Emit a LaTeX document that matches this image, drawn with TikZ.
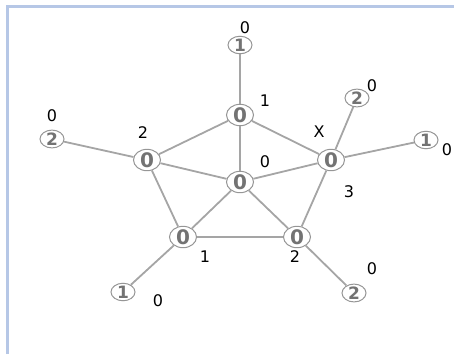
\documentclass[tikz,border=0pt]{standalone}
\usepackage{fontspec}
\setmainfont{DejaVu Sans}
\usetikzlibrary{shapes.geometric}
\definecolor{EdgeGrey}{RGB}{165,165,165}
\definecolor{RimGrey}{RGB}{150,150,150}
\definecolor{FrameBlue}{RGB}{182,199,230}

\begin{document}
\begin{tikzpicture}[
  x=1pt, y=-1pt,
  font=\fontsize{16}{18}\selectfont,
  vert/.style={ellipse, draw=RimGrey, line width=1pt, fill=white,
    inner sep=0pt, minimum width=27pt, minimum height=17pt,
    text=black!55, font=\fontsize{20}{20}\selectfont\bfseries},
  leaf/.style={vert, minimum width=24pt, minimum height=15pt,
    font=\fontsize{17}{17}\selectfont\bfseries},
  lbl/.style={inner sep=0pt, text=black},
  link/.style={draw=EdgeGrey, line width=1.8pt}
]
\useasboundingbox (0,0) rectangle (454,354);
\draw[FrameBlue, line width=2.5pt] (7.5,354) -- (7.5,6.5) -- (454,6.5);

% inner vertices
\node[vert] (top) at (240,115) {0};
\node[vert] (lft) at (147,160) {0};
\node[vert] (mid) at (240,182) {0};
\node[vert] (rgt) at (331,160) {0};
\node[vert] (bl) at (183,237) {0};
\node[vert] (br) at (297,237) {0};

% outer leaves
\node[leaf] (topleaf) at (240,45) {1};
\node[leaf] (lftleaf) at (52,139) {2};
\node[leaf] (rgtup) at (357,98) {2};
\node[leaf] (rgtleaf) at (426,140) {1};
\node[leaf] (blleaf) at (123,292) {1};
\node[leaf] (brleaf) at (354,293) {2};

% edges
\foreach \a/\b in {top/topleaf, top/lft, top/mid, top/rgt, lft/mid, mid/rgt,
    lft/bl, mid/bl, mid/br, rgt/br, bl/br, lft/lftleaf, rgt/rgtup,
    rgt/rgtleaf, bl/blleaf, br/brleaf}
  \draw[link] (\a) -- (\b);

% labels
\node[lbl] (ltopleaf) at (245,28) {0};
\node[lbl] (ltop) at (265,101) {1};
\node[lbl] (llft) at (143,133) {2};
\node[lbl] (llftleaf) at (52,116) {0};
\node[lbl] (lmid) at (265,162) {0};
\node[lbl] (lx) at (319,132) {X};
\node[lbl] (lrgt) at (349,192) {3};
\node[lbl] (lrgtup) at (372,86) {0};
\node[lbl] (lrgtleaf) at (447,150) {0};
\node[lbl] (lbl) at (205,257) {1};
\node[lbl] (lbr) at (295,257) {2};
\node[lbl] (lblleaf) at (158,301) {0};
\node[lbl] (lbrleaf) at (372,269) {0};
\end{tikzpicture}
\end{document}
